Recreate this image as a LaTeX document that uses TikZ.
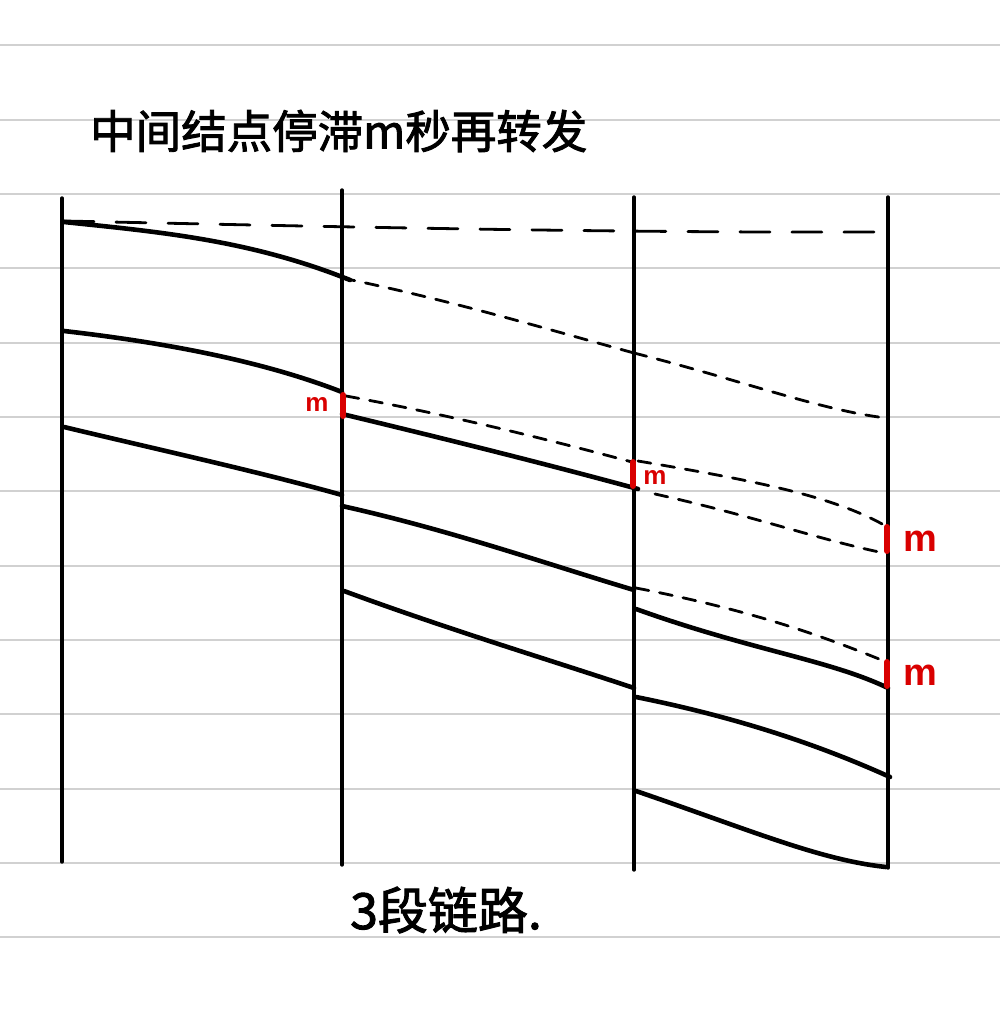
\documentclass[tikz,border=0pt]{standalone}
\usepackage{fontspec}
\newfontfamily\cjk[FakeBold=2]{Noto Sans CJK SC}
\setsansfont{Liberation Sans}
\begin{document}
\begin{tikzpicture}[x=1pt,y=-1pt,
  rule/.style={draw=black!18,line width=2pt},
  post/.style={draw=black,line width=3.4pt,line cap=round},
  pkt/.style={draw=black,line width=4.6pt,line cap=round},
  pktdash/.style={draw=black,line width=2.8pt,line cap=round,dash pattern=on 13pt off 11pt},
  topdash/.style={draw=black,line width=2.8pt,line cap=round,dash pattern=on 30pt off 22pt},
  hold/.style={draw=red!85!black,line width=6pt,line cap=round},
  mlab/.style={text=red!85!black,inner sep=0pt}]
\useasboundingbox (0,0) rectangle (1000,1011);
\fill[white] (0,0) rectangle (1000,1011);
% ruled paper
\foreach \k in {0,...,12}{
  \draw[rule] (0,{45.5+74.3*\k}) -- (1000,{45.5+74.3*\k});
}
% texts
\node[font=\cjk\fontsize{45.5}{50}\selectfont,anchor=west,inner sep=0pt] (title) at (90,131) {中间结点停滞m秒再转发};
\node[font=\cjk\fontsize{50}{54}\selectfont,anchor=west,inner sep=0pt] (caption) at (350,910) {3段链路.};
% hosts / routers
\coordinate (A1) at (62,198); \coordinate (A2) at (62,862);
\coordinate (B1) at (342,190); \coordinate (B2) at (342,865);
\coordinate (C1) at (634,197); \coordinate (C2) at (634,870);
\coordinate (D1) at (888,197); \coordinate (D2) at (888,868);
\draw[post] (A1) -- (A2);
\draw[post] (B1) -- (B2);
\draw[post] (C1) -- (C2);
\draw[post] (D1) -- (D2);
% top dashed
\coordinate (t0) at (64,221); \coordinate (t1) at (878,232);
\draw[topdash] (t0) .. controls (300,226) and (600,233) .. (t1);
% link 1 packets
\coordinate (a1) at (64,222); \coordinate (b1) at (350,280);
\coordinate (a2) at (64,331); \coordinate (b2) at (342,392);
\coordinate (a3) at (64,427); \coordinate (b3) at (342,495);
\draw[pkt] (a1) .. controls (160,232) and (250,240) .. (b1);
\draw[pkt] (a2) .. controls (160,342) and (260,360) .. (b2);
\draw[pkt] (a3) .. controls (160,450) and (260,472) .. (b3);
% link 2
\coordinate (b1d) at (342,278); \coordinate (c1d) at (634,353); \coordinate (d1d) at (886,418);
\draw[pktdash] (b1d) .. controls (450,300) and (550,330) .. (c1d);
\draw[pktdash] (c1d) .. controls (740,380) and (820,410) .. (d1d);
\coordinate (b2d) at (346,396); \coordinate (c2d) at (632,462);
\draw[pktdash] (b2d) .. controls (450,415) and (550,440) .. (c2d);
\coordinate (b2s) at (342,414); \coordinate (c2s) at (638,489);
\draw[pkt] (b2s) .. controls (450,440) and (550,465) .. (c2s);
\coordinate (b3s) at (342,506); \coordinate (c3s) at (634,590);
\draw[pkt] (b3s) .. controls (450,530) and (550,565) .. (c3s);
\coordinate (b4s) at (344,591); \coordinate (c4s) at (634,688);
\draw[pkt] (b4s) .. controls (450,630) and (550,660) .. (c4s);
% link 3
\coordinate (c2dd) at (638,461); \coordinate (d2dd) at (884,525);
\draw[pktdash] (c2dd) .. controls (750,480) and (830,495) .. (d2dd);
\coordinate (c2ds) at (655,494); \coordinate (d2ds) at (884,553);
\draw[pktdash] (c2ds) .. controls (750,515) and (820,540) .. (d2ds);
\coordinate (c3d) at (636,588); \coordinate (d3d) at (884,661);
\draw[pktdash] (c3d) .. controls (750,610) and (820,635) .. (d3d);
\coordinate (c3ps) at (636,609); \coordinate (d3ps) at (888,688);
\draw[pkt] (c3ps) .. controls (750,650) and (830,660) .. (d3ps);
\coordinate (c4ps) at (636,697); \coordinate (d4ps) at (890,777);
\draw[pkt] (c4ps) .. controls (750,720) and (830,750) .. (d4ps);
\coordinate (c5ps) at (636,791); \coordinate (d5ps) at (886,867);
\draw[pkt] (c5ps) .. controls (750,830) and (820,860) .. (d5ps);
% holding time marks
\coordinate (h1a) at (343,395); \coordinate (h1b) at (343,416);
\coordinate (h2a) at (633,462); \coordinate (h2b) at (633,486);
\coordinate (h3a) at (887,527); \coordinate (h3b) at (887,551);
\coordinate (h4a) at (887,662); \coordinate (h4b) at (887,686);
\draw[hold] (h1a) -- (h1b);
\draw[hold] (h2a) -- (h2b);
\draw[hold] (h3a) -- (h3b);
\draw[hold] (h4a) -- (h4b);
\node[mlab,font=\sffamily\bfseries\fontsize{26}{26}\selectfont] (m1) at (317,404) {m};
\node[mlab,font=\sffamily\bfseries\fontsize{26}{26}\selectfont] (m2) at (655,477) {m};
\node[mlab,font=\sffamily\bfseries\fontsize{38}{38}\selectfont] (m3) at (920,541) {m};
\node[mlab,font=\sffamily\bfseries\fontsize{38}{38}\selectfont] (m4) at (920,675) {m};
\end{tikzpicture}
\end{document}
